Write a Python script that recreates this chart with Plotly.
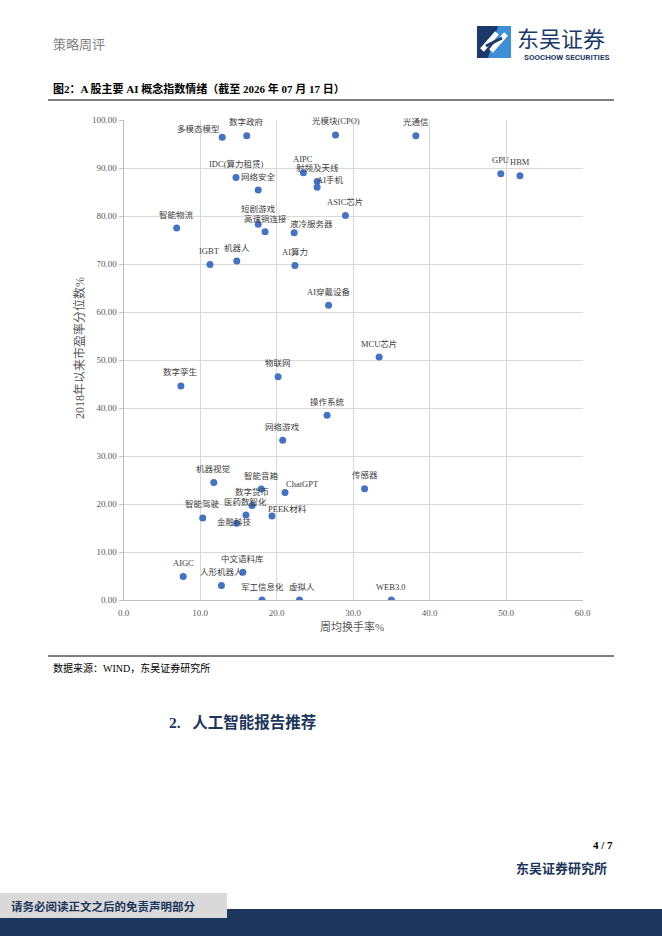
import plotly.graph_objects as go

W, H = 662, 936

# AI concept indices: weekly avg turnover (%) vs PE percentile since 2018 (%)
concepts = [
    "多模态模型", "数字政府", "光模块(CPO)", "光通信", "GPU", "HBM",
    "IDC(算力租赁)", "AIPC", "射频及天线", "AI手机", "网络安全", "ASIC芯片",
    "智能物流", "短剧游戏", "高速铜连接", "液冷服务器", "IGBT", "机器人", "AI算力",
    "AI穿戴设备", "MCU芯片", "数字孪生", "物联网", "操作系统", "网络游戏",
    "机器视觉", "智能音箱", "ChatGPT", "传感器", "数字货币", "医药数智化",
    "智能驾驶", "PEEK材料", "金融科技", "AIGC", "中文语料库", "人形机器人",
    "军工信息化", "虚拟人", "WEB3.0",
]
turnover = [
    12.9, 16.1, 27.7, 38.2, 49.3, 51.8,
    14.7, 23.5, 25.3, 25.3, 17.6, 29.0,
    6.95, 17.6, 18.5, 22.3, 11.3, 14.8, 22.4,
    26.8, 33.4, 7.5, 20.2, 26.6, 20.8,
    11.8, 18.0, 21.1, 31.5, 16.8, 16.0,
    10.35, 19.4, 14.8, 7.8, 15.6, 12.8,
    18.1, 23.0, 35.0,
]
pe_pct = [
    96.4, 96.7, 96.9, 96.7, 88.8, 88.4,
    88.0, 89.0, 87.2, 86.0, 85.4, 80.1,
    77.5, 78.3, 76.7, 76.5, 69.9, 70.6, 69.7,
    61.4, 50.6, 44.6, 46.5, 38.5, 33.3,
    24.5, 23.1, 22.4, 23.2, 19.7, 17.7,
    17.1, 17.5, 16.0, 4.9, 5.8, 3.0,
    0.0, 0.0, 0.0,
]

x_ticks = [0, 10, 20, 30, 40, 50, 60]
y_ticks = [0, 10, 20, 30, 40, 50, 60, 70, 80, 90, 100]

# data labels sit above the dot; a few were dragged aside in the original
label_shift = {
    "多模态模型": (-24, 8),
    "AI手机": (13, 7),
    "液冷服务器": (17, 9),
    "ChatGPT": (18, 8),
    "PEEK材料": (16, 7),
    "金融科技": (-2, 1),
    "虚拟人": (2, 13.5),
    "短剧游戏": (0, 15),
    "高速铜连接": (0, 12.5),
}

SERIF = "Liberation Serif, Noto Sans CJK SC, serif"
CJK = "Noto Sans CJK SC, sans-serif"
NAVY = "#1c365c"
GREY_TXT = "#595959"


def px(x):
    return x / W


def py(y):
    return 1 - y / H


fig = go.Figure()
fig.add_trace(
    go.Scatter(
        x=turnover,
        y=pe_pct,
        mode="markers",
        text=concepts,
        hoverinfo="text",
        marker=dict(color="#4472c4", size=7),
        showlegend=False,
    )
)

for name, xv, yv in zip(concepts, turnover, pe_pct):
    dx, dy = label_shift.get(name, (0, 13.5))
    fig.add_annotation(
        x=xv, y=yv, xref="x", yref="y", text=name, showarrow=False,
        xshift=dx, yshift=dy, xanchor="center", yanchor="middle", borderpad=0,
        font=dict(family=SERIF, size=8.5, color="#404040"),
    )


def text(x, y, s, size, color="black", anchor="left", family=SERIF, angle=0):
    fig.add_annotation(
        x=px(x), y=py(y), xref="paper", yref="paper", text=s, showarrow=False,
        xanchor=anchor, yanchor="middle", textangle=angle, borderpad=0,
        font=dict(family=family, size=size, color=color),
    )


# axis titles
text(352, 626, "周均换手率%", 11, GREY_TXT, "center")
text(79, 348, "2018年以来市盈率分位数%", 12, GREY_TXT, "center", angle=-90)

# page header
text(52, 43, "策略周评", 13, "#7f7f7f", "left", CJK)
text(516, 37, "东吴证券", 22, "#1b3a6b", "left", CJK)
text(566, 57, "<b>SOOCHOW SECURITIES</b>", 8, "#1b3a6b", "center", "Roboto, sans-serif")
text(52, 88, "<b>图2：A 股主要 AI 概念指数情绪（截至 2026 年 07 月 17 日）</b>", 11)
text(52, 668, "数据来源：WIND，东吴证券研究所", 10)
text(168, 722, "<b>2.   人工智能报告推荐</b>", 15.5, NAVY)
text(614, 845, "<b>4 / 7</b>", 11, "black", "right")
text(608, 868, "<b>东吴证券研究所</b>", 13, NAVY, "right")


def paper_shape(**kw):
    kw.setdefault("xref", "paper")
    kw.setdefault("yref", "paper")
    return kw


shapes = [
    paper_shape(type="line", x0=px(48), x1=px(614), y0=py(100), y1=py(100),
                line=dict(color="black", width=1)),
    paper_shape(type="line", x0=px(48), x1=px(614), y0=py(656), y1=py(656),
                line=dict(color="black", width=1)),
    # footer band + disclaimer box
    paper_shape(type="rect", x0=0, x1=1, y0=0, y1=py(909), fillcolor=NAVY, line_width=0),
    paper_shape(type="rect", x0=0, x1=px(227), y0=py(918), y1=py(893),
                fillcolor="#d9d9d9", line_width=0),
    # logo mark
    paper_shape(type="rect", x0=px(477), x1=px(511), y0=py(58), y1=py(26),
                fillcolor="#1b3a6b", line_width=0),
]


def poly(points):
    return "M " + " L ".join(f"{px(a):.5f},{py(b):.5f}" for a, b in points) + " Z"


shapes.append(paper_shape(type="path", path=poly([(498, 26), (511, 26), (511, 58), (488, 58)]),
                          fillcolor="#3f8fd6", line_width=0))
shapes.append(paper_shape(type="line", x0=px(482), y0=py(50), x1=px(497), y1=py(33),
                          line=dict(color="white", width=5)))
shapes.append(paper_shape(type="line", x0=px(491), y0=py(51), x1=px(506), y1=py(34),
                          line=dict(color="white", width=5)))
shapes.append(paper_shape(type="line", x0=px(486), y0=py(46), x1=px(502), y1=py(38),
                          line=dict(color="#1b3a6b", width=3)))

text(10, 906, "<b>请务必阅读正文之后的免责声明部分</b>", 11.5, NAVY, "left", CJK)

fig.update_layout(
    width=W,
    height=H,
    autosize=False,
    margin=dict(l=0, r=0, t=0, b=0, pad=0),
    paper_bgcolor="white",
    plot_bgcolor="white",
    shapes=shapes,
    hovermode="closest",
    xaxis=dict(
        domain=[px(123.5), px(582.7)],
        range=[0, 60],
        tickvals=x_ticks,
        tickformat=".1f",
        showgrid=True,
        gridcolor="#d9d9d9",
        gridwidth=1,
        zeroline=False,
        showline=True,
        linecolor="#bfbfbf",
        ticks="",
        ticklabelstandoff=4,
        tickfont=dict(family=SERIF, size=9, color=GREY_TXT),
        automargin=False,
        fixedrange=True,
    ),
    yaxis=dict(
        domain=[py(600), py(120)],
        range=[0, 100],
        tickvals=y_ticks,
        tickformat=".2f",
        showgrid=True,
        gridcolor="#d9d9d9",
        gridwidth=1,
        zeroline=False,
        showline=True,
        linecolor="#bfbfbf",
        ticks="outside",
        ticklen=4,
        tickcolor="#bfbfbf",
        tickfont=dict(family=SERIF, size=9, color=GREY_TXT),
        automargin=False,
        fixedrange=True,
    ),
)

# the page is exactly the figure, so drop the browser's default body margin
fig.write_html(
    "out.html",
    config={"displayModeBar": False},
    post_script="document.body.style.margin = '0';",
)
